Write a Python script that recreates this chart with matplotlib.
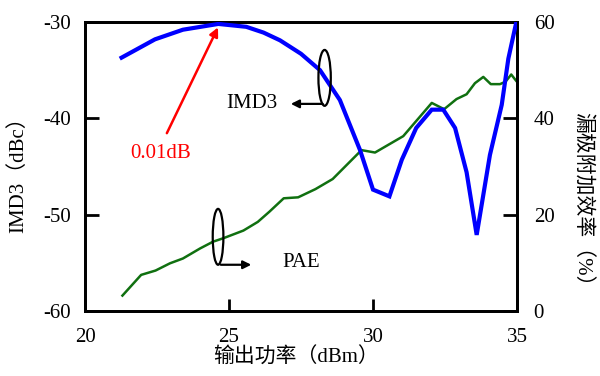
import matplotlib
matplotlib.use("Agg")
import matplotlib.pyplot as plt
from matplotlib.patches import Ellipse

plt.rcParams['axes.unicode_minus'] = False
plt.rcParams['font.family'] = ['Liberation Serif', 'Noto Sans CJK SC']

# IMD3 (left axis, dBc)
imd_x = [21.27, 22.43, 23.4, 24.63, 25.6, 26.2, 26.77, 27.5, 28.16, 28.85,
         29.55, 30.0, 30.57, 31.0, 31.5, 32.04, 32.44, 32.85, 33.25, 33.6,
         34.06, 34.47, 34.7, 34.97]
imd_y = [-33.7, -31.8, -30.8, -30.2, -30.5, -31.1, -31.9, -33.3, -35.0, -38.1,
         -43.3, -47.4, -48.1, -44.3, -41.0, -39.1, -39.1, -41.0, -45.6, -52.1,
         -43.8, -38.6, -33.8, -30.1]

# PAE (right axis, %)
pae_x = [21.3, 21.95, 22.45, 22.95, 23.4, 24.0, 24.45, 24.8, 25.5, 26.0,
         26.4, 26.9, 27.4, 28.0, 28.6, 29.6, 30.07, 31.05, 32.04, 32.47,
         32.9, 33.25, 33.54, 33.83, 34.09, 34.41, 34.6, 34.8, 34.97]
pae_y = [3.2, 7.5, 8.4, 9.9, 10.9, 13.0, 14.4, 15.1, 16.7, 18.5,
         20.6, 23.4, 23.6, 25.3, 27.4, 33.4, 32.9, 36.3, 43.2, 41.9,
         44.0, 45.0, 47.3, 48.6, 47.1, 47.1, 47.6, 49.1, 47.8]

x_ticks = [20, 25, 30, 35]
left_ticks = [-60, -50, -40, -30]
right_ticks = [0, 20, 40, 60]

FS = 15

fig = plt.figure(figsize=(6.0, 3.76), dpi=100)
ax = fig.add_axes([85/600, 1-311/376, 432/600, 289/376])
ax2 = ax.twinx()

ax.plot(imd_x, imd_y, color='#0000FF', lw=3.0, zorder=3, solid_joinstyle='miter')
ax2.plot(pae_x, pae_y, color='#107010', lw=1.8, zorder=2)

ax.set_xlim(20, 35)
ax.set_ylim(-60, -30)
ax2.set_ylim(0, 60)
ax.set_xticks(x_ticks)
ax.set_yticks(left_ticks)
ax2.set_yticks(right_ticks)
ax.set_xticklabels([str(v) for v in x_ticks], fontsize=FS)
ax.set_yticklabels([str(v) for v in left_ticks], fontsize=FS)
ax2.set_yticklabels([str(v) for v in right_ticks], fontsize=FS)

for a in (ax, ax2):
    for s in a.spines.values():
        s.set_linewidth(2.0)
ax.tick_params(axis='x', direction='in', length=9, width=2, pad=12)
ax.tick_params(axis='y', direction='in', length=10, width=2, pad=10)
ax2.tick_params(axis='y', direction='in', length=10, width=2, pad=12)
ax.set_zorder(ax2.get_zorder() + 1)
ax.patch.set_visible(False)

# annotations
ax.add_patch(Ellipse((28.32, -35.8), 0.43, 5.8, fill=False, lw=1.6, ec='k', zorder=4))
ax.annotate('', xy=(27.05, -38.5), xytext=(28.35, -38.5),
            arrowprops=dict(arrowstyle='-|>', color='k', lw=1.6, mutation_scale=12))
ax.text(26.67, -38.5, 'IMD3', ha='right', va='center', fontsize=FS)

ax.add_patch(Ellipse((24.62, -52.3), 0.37, 5.8, fill=False, lw=1.6, ec='k', zorder=4))
ax.annotate('', xy=(25.87, -55.2), xytext=(24.62, -55.2),
            arrowprops=dict(arrowstyle='-|>', color='k', lw=1.6, mutation_scale=12))
ax.text(26.84, -55.0, 'PAE', ha='left', va='center', fontsize=FS)

ax.annotate('', xy=(24.66, -30.3), xytext=(22.8, -41.8),
            arrowprops=dict(arrowstyle='-|>', color='#FF0000', lw=1.8, mutation_scale=13))
ax.text(22.64, -43.7, '0.01dB', color='#FF0000', ha='center', va='center', fontsize=FS)

# axis labels
fig.text(296/600, 1-358/376, '输出功率（dBm）', ha='center', va='center', fontsize=FS)
fig.text(18/600, 1-170/376, 'IMD3（dBc）', ha='center', va='center', rotation=90, fontsize=FS)
fig.text(582/600, 1-204/376, '漏极附加效率（%）', ha='center', va='center', rotation=270, fontsize=FS)

fig.savefig('out.png', dpi=100)
